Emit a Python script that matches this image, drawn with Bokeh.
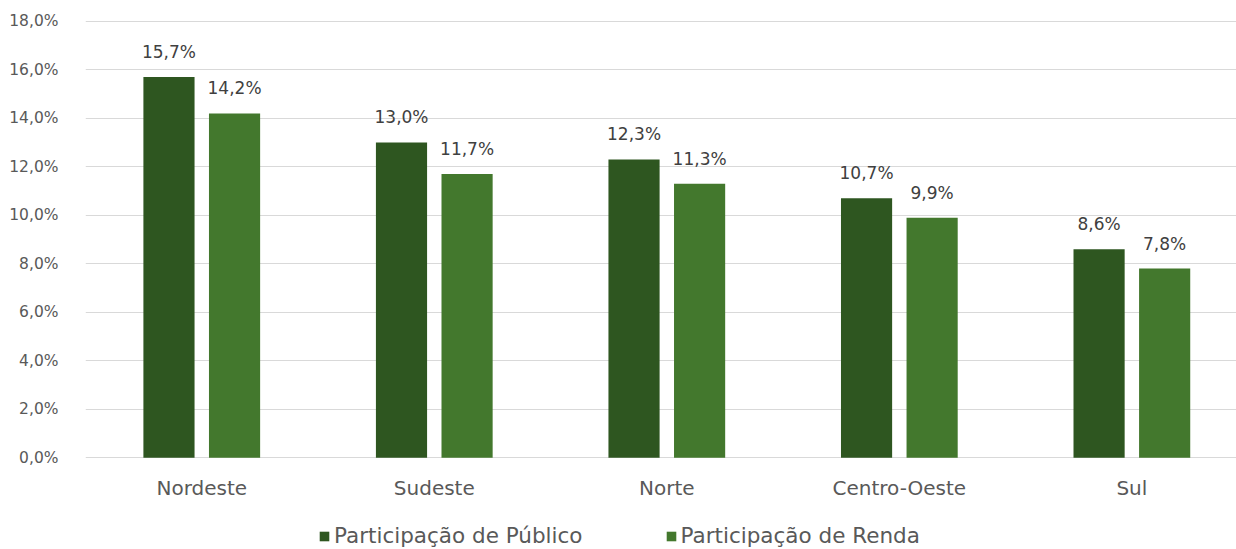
from bokeh.plotting import figure
from bokeh.layouts import column
from bokeh.models import ColumnDataSource, Range1d, FixedTicker, Legend, LegendItem
from bokeh.core.properties import value
from bokeh.embed import file_html
from bokeh.resources import INLINE

categories = ["Nordeste", "Sudeste", "Norte", "Centro-Oeste", "Sul"]
publico = [15.7, 13.0, 12.3, 10.7, 8.6]
renda = [14.2, 11.7, 11.3, 9.9, 7.8]
y_ticks = [0, 2, 4, 6, 8, 10, 12, 14, 16, 18]
y_tick_labels = ["0,0%", "2,0%", "4,0%", "6,0%", "8,0%", "10,0%", "12,0%", "14,0%", "16,0%", "18,0%"]
series_names = ["Participação de Público", "Participação de Renda"]
colors = ["#2E5620", "#43782D"]

FONT = "DejaVu Sans"

def fmt(v):
    return f"{v:.1f}".replace(".", ",") + "%"

idx = list(range(len(categories)))
src_p = ColumnDataSource(dict(x=[i - 0.141 for i in idx], top=publico, lab=[fmt(v) for v in publico]))
src_r = ColumnDataSource(dict(x=[i + 0.141 for i in idx], top=renda, lab=[fmt(v) for v in renda]))

p = figure(width=1236, height=505, output_backend="svg", toolbar_location=None,
           x_range=Range1d(-0.5, 4.45), y_range=Range1d(-0.03, 18.03),
           min_border_left=85, min_border_right=0, min_border_top=20, min_border_bottom=47)
p.outline_line_color = None
p.background_fill_color = "white"

p.xgrid.grid_line_color = None
p.ygrid.grid_line_color = "#D9D9D9"
p.ygrid.grid_line_width = 1
p.ygrid.ticker = FixedTicker(ticks=y_ticks)

r1 = p.vbar(x="x", top="top", width=0.22, source=src_p, fill_color=colors[0], line_color=None)
r2 = p.vbar(x="x", top="top", width=0.22, source=src_r, fill_color=colors[1], line_color=None)

for src in (src_p, src_r):
    p.text(x="x", y="top", text="lab", source=src, text_align="center", text_baseline="alphabetic",
           y_offset=-25, text_font=value(FONT), text_font_size="17px", text_color="#404040")

p.yaxis.ticker = FixedTicker(ticks=y_ticks)
p.yaxis.major_label_overrides = {t: l for t, l in zip(y_ticks, y_tick_labels)}
p.yaxis.axis_line_color = None
p.yaxis.major_tick_line_color = None
p.yaxis.minor_tick_line_color = None
p.yaxis.major_label_standoff = 21
p.yaxis.major_label_text_font = FONT
p.yaxis.major_label_text_font_size = "15.5px"
p.yaxis.major_label_text_color = "#595959"

p.xaxis.ticker = FixedTicker(ticks=idx)
p.xaxis.major_label_overrides = {i: c for i, c in zip(idx, categories)}
p.xaxis.axis_line_color = None
p.xaxis.major_tick_line_color = None
p.xaxis.minor_tick_line_color = None
p.xaxis.major_label_standoff = 11
p.xaxis.major_label_text_font = FONT
p.xaxis.major_label_text_font_size = "20px"
p.xaxis.major_label_text_color = "#595959"

# legend strip below the chart (its renderers sit outside its visible range)
lg = figure(width=1236, height=44, output_backend="svg", toolbar_location=None,
            x_range=Range1d(100, 101), y_range=Range1d(100, 101),
            min_border_left=0, min_border_right=0, min_border_top=0, min_border_bottom=0)
lg.axis.visible = False
lg.grid.visible = False
lg.outline_line_color = None
d1 = lg.vbar(x="x", top="top", width=0.22, source=src_p, fill_color=colors[0], line_color=None)
d2 = lg.vbar(x="x", top="top", width=0.22, source=src_r, fill_color=colors[1], line_color=None)

legend = Legend(items=[LegendItem(label=series_names[0], renderers=[d1]),
                       LegendItem(label=series_names[1], renderers=[d2])],
                orientation="horizontal", location=(233, 1),
                label_text_font=FONT, label_text_font_size="21.5px", label_text_color="#595959",
                glyph_width=12, glyph_height=12, label_standoff=4, spacing=82,
                border_line_color=None, background_fill_alpha=0, padding=0, margin=0)
lg.add_layout(legend, "center")

layout = column(p, lg, spacing=0)
open("out.html", "w").write(file_html(layout, INLINE))
